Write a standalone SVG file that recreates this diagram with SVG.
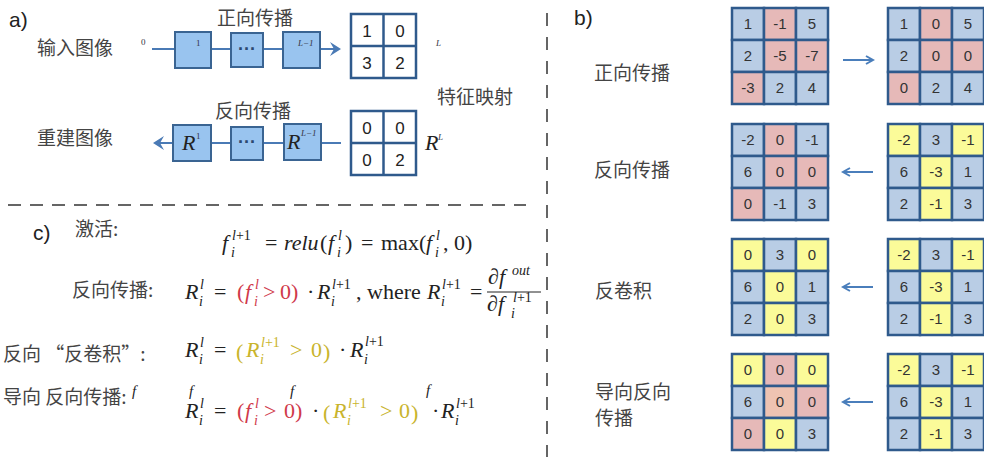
<svg xmlns="http://www.w3.org/2000/svg" width="984" height="457" viewBox="0 0 984 457">
<defs>
<style>
.cn{font-family:"Noto Sans CJK SC","Noto Sans",sans-serif;fill:#444;font-size:19px}
.lbl{font-family:"Liberation Sans","Noto Sans",sans-serif;fill:#222;font-size:21px}
.m{font-family:"Liberation Serif",serif;font-size:22px;fill:#222}
.i{font-style:italic}
.s{font-size:14px}
.t{font-size:15px}
.red{fill:#d0394a}
.yel{fill:#c9b42c}
.box{fill:#99c4ef;stroke:#3a6492;stroke-width:2}
.ln{stroke:#4a7ab5;stroke-width:2;fill:none}
.g2{fill:#fff;stroke:#2f5a8c;stroke-width:2.5}
.gt{font-family:"Liberation Sans","Noto Sans",sans-serif;font-size:17px;fill:#222;text-anchor:middle}
.ct{font-family:"Liberation Sans","Noto Sans",sans-serif;font-size:15px;fill:#333;text-anchor:middle}
.sm{font-family:"Liberation Serif",serif;font-size:9px;fill:#334;}
.B{fill:#b9cde5}.P{fill:#e6b9b8}.Y{fill:#fbfb99}.O{fill:#eec3b2}
.cell{stroke:#2f5a8c;stroke-width:2.5}
.dash{stroke:#333;stroke-width:1.5;fill:none}
.arr{stroke:#4a7ebb;stroke-width:2;fill:none;marker-end:url(#ah)}
</style>
<marker id="ah" markerWidth="10" markerHeight="10" refX="8" refY="5" orient="auto" markerUnits="userSpaceOnUse">
<path d="M1,1 L8,5 L1,9" fill="none" stroke="#4a7ebb" stroke-width="2"/>
</marker>
</defs>
<rect width="984" height="457" fill="#fff"/>

<g id="dividers">
<line class="dash" x1="8" y1="205" x2="526" y2="205" stroke-dasharray="13 9"/>
<line class="dash" x1="547" y1="13" x2="547" y2="457" stroke-dasharray="13 11"/>
</g>

<!-- section a -->
<g id="section-a">
<text class="lbl" x="9" y="27">a)</text>
<text class="cn" x="217" y="25">正向传播</text>
<text class="cn" x="37" y="55">输入图像</text>
<text class="cn" x="215" y="118">反向传播</text>
<text class="cn" x="37" y="145">重建图像</text>
<text class="cn" x="437" y="104">特征映射</text>
</g>

<g id="connectors">
<line class="ln" x1="152" y1="49" x2="175" y2="49"/>
<line class="ln" x1="211" y1="49" x2="231" y2="49"/>
<line class="ln" x1="263" y1="49" x2="283" y2="49"/>
<line class="ln" x1="320" y1="49" x2="337" y2="49"/>
<path d="M330,42 L341,49 L330,56 L334,49 Z" fill="#4a7ab5"/>
<line class="ln" x1="158" y1="143" x2="173" y2="143"/>
<line class="ln" x1="211" y1="143" x2="231" y2="143"/>
<line class="ln" x1="263" y1="143" x2="284" y2="143"/>
<line class="ln" x1="321" y1="143" x2="341" y2="143"/>
<path d="M164,136 L153,143 L164,150 L160,143 Z" fill="#4a7ab5"/>
<line class="arr" x1="843" y1="60" x2="873" y2="60"/>
<line class="arr" x1="873" y1="172" x2="843" y2="172"/>
<line class="arr" x1="873" y1="287" x2="843" y2="287"/>
<line class="arr" x1="873" y1="402" x2="843" y2="402"/>
</g>

<g id="node-f0"><text class="sm" x="141" y="45">0</text></g>
<g id="node-f1"><rect class="box" x="175" y="32" width="36" height="36"/><text class="sm" x="196" y="46">1</text></g>
<g id="node-fdots"><rect class="box" x="231" y="33" width="32" height="34"/><text x="247" y="55" font-family="Liberation Sans,sans-serif" font-size="18" font-weight="bold" fill="#2b4a70" text-anchor="middle">···</text></g>
<g id="node-fL1"><rect class="box" x="283" y="32" width="37" height="36"/><text class="sm i" x="298" y="46">L−1</text></g>
<g id="node-fmap">
<rect class="g2" x="351" y="14" width="65" height="64"/>
<line class="g2" x1="383.5" y1="14" x2="383.5" y2="78"/><line class="g2" x1="351" y1="46" x2="416" y2="46"/>
<text class="gt" x="367" y="37">1</text><text class="gt" x="400" y="37">0</text>
<text class="gt" x="367" y="69">3</text><text class="gt" x="400" y="69">2</text>
<text class="sm i" x="436" y="46">L</text>
</g>
<g id="node-r1"><rect class="box" x="173" y="125" width="38" height="36"/><text class="m i" x="182" y="150" font-size="19">R</text><text class="sm" x="196" y="139">1</text></g>
<g id="node-rdots"><rect class="box" x="231" y="127" width="32" height="33"/><text x="247" y="148" font-family="Liberation Sans,sans-serif" font-size="18" font-weight="bold" fill="#2b4a70" text-anchor="middle">···</text></g>
<g id="node-rL1"><rect class="box" x="284" y="124" width="37" height="36"/><text class="m i" x="287" y="149" font-size="19">R</text><text class="sm i" x="301" y="136" font-size="10">L−1</text></g>
<g id="node-rmap">
<rect class="g2" x="351" y="111" width="65" height="64"/>
<line class="g2" x1="383.5" y1="111" x2="383.5" y2="175"/><line class="g2" x1="351" y1="143" x2="416" y2="143"/>
<text class="gt" x="367" y="134">0</text><text class="gt" x="400" y="134">0</text>
<text class="gt" x="367" y="166">0</text><text class="gt" x="400" y="166">2</text>
<text class="m i" x="425" y="150" font-size="17">R</text><text class="sm i" x="438" y="140">L</text>
</g>

<!-- section c -->
<g id="section-c">
<text class="lbl" x="33" y="240">c)</text>
<text class="cn" x="75" y="236" font-size="16">激活:</text>
<text class="cn" x="72" y="297" font-size="17">反向传播:</text>
<text class="cn" x="3" y="361" font-size="17">反向 “反卷积”:</text>
<text class="cn" x="3" y="404" font-size="17">导向 反向传播:</text>
<text class="m i t" x="132" y="396">f</text>

<!-- formula 1 -->
<text class="m i" x="222" y="250">f</text>
<text class="m s" x="232" y="240"><tspan class="i">l</tspan>+1</text>
<text class="m s i" x="231" y="257">i</text>
<text class="m" x="265" y="250">=</text>
<text class="m i" x="284" y="250">relu</text>
<text class="m" x="320" y="250">(</text>
<text class="m i" x="328" y="250">f</text>
<text class="m s i" x="338" y="240">l</text>
<text class="m s i" x="337" y="257">i</text>
<text class="m" x="345" y="250">)</text>
<text class="m" x="361" y="250">=</text>
<text class="m" x="381" y="250">max(</text>
<text class="m i" x="426" y="250">f</text>
<text class="m s i" x="436" y="240">l</text>
<text class="m s i" x="435" y="257">i</text>
<text class="m" x="443" y="250">,</text>
<text class="m" x="454" y="250">0)</text>

<!-- formula 2 -->
<text class="m i" x="185" y="299">R</text>
<text class="m s i" x="200" y="289">l</text>
<text class="m s i" x="199" y="306">i</text>
<text class="m" x="214" y="299">=</text>
<text class="m red" x="237" y="299">(</text>
<text class="m i red" x="245" y="299">f</text>
<text class="m s i red" x="255" y="289">l</text>
<text class="m s i red" x="254" y="306">i</text>
<text class="m red" x="263" y="299">&gt;</text>
<text class="m red" x="280" y="299">0)</text>
<text class="m" x="307" y="299">·</text>
<text class="m i" x="317" y="299">R</text>
<text class="m s" x="332" y="289"><tspan class="i">l</tspan>+1</text>
<text class="m s i" x="331" y="306">i</text>
<text class="m" x="356" y="299">, where</text>
<text class="m i" x="427" y="299">R</text>
<text class="m s" x="442" y="289"><tspan class="i">l</tspan>+1</text>
<text class="m s i" x="441" y="306">i</text>
<text class="m" x="470" y="299">=</text>
<text class="m" x="488" y="284" font-size="20">∂<tspan class="i">f</tspan></text>
<text class="m s i" x="512" y="275">out</text>
<line x1="487" y1="292" x2="541" y2="292" stroke="#222" stroke-width="1"/>
<text class="m" x="487" y="311" font-size="20">∂<tspan class="i">f</tspan></text>
<text class="m s" x="513" y="302"><tspan class="i">l</tspan>+1</text>
<text class="m s i" x="511" y="318">i</text>

<!-- formula 3 -->
<text class="m i" x="185" y="357">R</text>
<text class="m s i" x="200" y="347">l</text>
<text class="m s i" x="199" y="364">i</text>
<text class="m" x="214" y="357">=</text>
<text class="m yel" x="236" y="359" font-size="26">(</text>
<text class="m i yel" x="246" y="357">R</text>
<text class="m s yel" x="261" y="347"><tspan class="i">l</tspan>+1</text>
<text class="m s i yel" x="260" y="364">i</text>
<text class="m yel" x="290" y="357">&gt;</text>
<text class="m yel" x="311" y="357">0</text>
<text class="m yel" x="323" y="359" font-size="26">)</text>
<text class="m" x="339" y="357">·</text>
<text class="m i" x="350" y="357">R</text>
<text class="m s" x="365" y="346"><tspan class="i">l</tspan>+1</text>
<text class="m s i" x="364" y="364">i</text>

<!-- formula 4 -->
<text class="m i t" x="189" y="396">f</text>
<text class="m i" x="185" y="418">R</text>
<text class="m s i" x="200" y="408">l</text>
<text class="m s i" x="199" y="425">i</text>
<text class="m" x="214" y="418">=</text>
<text class="m red" x="237" y="418">(</text>
<text class="m i red" x="245" y="418">f</text>
<text class="m s i red" x="255" y="408">l</text>
<text class="m s i red" x="254" y="425">i</text>
<text class="m red" x="264" y="418">&gt;</text>
<text class="m red" x="284" y="418">0)</text>
<text class="m i t" x="290" y="396">f</text>
<text class="m" x="312" y="418">·</text>
<text class="m yel" x="323" y="420" font-size="26">(</text>
<text class="m i yel" x="333" y="418">R</text>
<text class="m s yel" x="348" y="408"><tspan class="i">l</tspan>+1</text>
<text class="m s i yel" x="347" y="425">i</text>
<text class="m yel" x="380" y="418">&gt;</text>
<text class="m yel" x="399" y="418">0</text>
<text class="m yel" x="411" y="420" font-size="26">)</text>
<text class="m i t" x="426" y="395">f</text>
<text class="m" x="432" y="418">·</text>
<text class="m i" x="441" y="418">R</text>
<text class="m s" x="456" y="408"><tspan class="i">l</tspan>+1</text>
<text class="m s i" x="455" y="425">i</text>
</g>

<!-- section b -->
<g id="section-b">
<text class="lbl" x="574" y="25">b)</text>
<text class="cn" x="594" y="80">正向传播</text>
<text class="cn" x="594" y="177">反向传播</text>
<text class="cn" x="595" y="298">反卷积</text>
<text class="cn" font-size="18"><tspan x="595" y="399">导向反向</tspan><tspan x="595" dy="26">传播</tspan></text>
</g>

<g id="grid-fwd-in">
<rect class="cell B" x="732" y="8" width="32" height="32"/><rect class="cell P" x="764" y="8" width="32" height="32"/><rect class="cell B" x="796" y="8" width="32" height="32"/>
<rect class="cell B" x="732" y="40" width="32" height="32"/><rect class="cell P" x="764" y="40" width="32" height="32"/><rect class="cell P" x="796" y="40" width="32" height="32"/>
<rect class="cell P" x="732" y="72" width="32" height="32"/><rect class="cell B" x="764" y="72" width="32" height="32"/><rect class="cell B" x="796" y="72" width="32" height="32"/>
<text class="ct" x="748" y="29">1</text><text class="ct" x="780" y="29">-1</text><text class="ct" x="812" y="29">5</text>
<text class="ct" x="748" y="61">2</text><text class="ct" x="780" y="61">-5</text><text class="ct" x="812" y="61">-7</text>
<text class="ct" x="748" y="93">-3</text><text class="ct" x="780" y="93">2</text><text class="ct" x="812" y="93">4</text>
</g>
<g id="grid-fwd-out">
<rect class="cell B" x="888" y="8" width="32" height="32"/><rect class="cell P" x="920" y="8" width="32" height="32"/><rect class="cell B" x="952" y="8" width="32" height="32"/>
<rect class="cell B" x="888" y="40" width="32" height="32"/><rect class="cell P" x="920" y="40" width="32" height="32"/><rect class="cell P" x="952" y="40" width="32" height="32"/>
<rect class="cell P" x="888" y="72" width="32" height="32"/><rect class="cell B" x="920" y="72" width="32" height="32"/><rect class="cell B" x="952" y="72" width="32" height="32"/>
<text class="ct" x="904" y="29">1</text><text class="ct" x="936" y="29">0</text><text class="ct" x="968" y="29">5</text>
<text class="ct" x="904" y="61">2</text><text class="ct" x="936" y="61">0</text><text class="ct" x="968" y="61">0</text>
<text class="ct" x="904" y="93">0</text><text class="ct" x="936" y="93">2</text><text class="ct" x="968" y="93">4</text>
</g>

<g id="grid-bp-out">
<rect class="cell B" x="732" y="124" width="32" height="32"/><rect class="cell P" x="764" y="124" width="32" height="32"/><rect class="cell B" x="796" y="124" width="32" height="32"/>
<rect class="cell B" x="732" y="156" width="32" height="32"/><rect class="cell P" x="764" y="156" width="32" height="32"/><rect class="cell P" x="796" y="156" width="32" height="32"/>
<rect class="cell P" x="732" y="188" width="32" height="32"/><rect class="cell B" x="764" y="188" width="32" height="32"/><rect class="cell B" x="796" y="188" width="32" height="32"/>
<text class="ct" x="748" y="145">-2</text><text class="ct" x="780" y="145">0</text><text class="ct" x="812" y="145">-1</text>
<text class="ct" x="748" y="177">6</text><text class="ct" x="780" y="177">0</text><text class="ct" x="812" y="177">0</text>
<text class="ct" x="748" y="209">0</text><text class="ct" x="780" y="209">-1</text><text class="ct" x="812" y="209">3</text>
</g>
<g id="grid-bp-in">
<rect class="cell Y" x="888" y="124" width="32" height="32"/><rect class="cell B" x="920" y="124" width="32" height="32"/><rect class="cell Y" x="952" y="124" width="32" height="32"/>
<rect class="cell B" x="888" y="156" width="32" height="32"/><rect class="cell Y" x="920" y="156" width="32" height="32"/><rect class="cell B" x="952" y="156" width="32" height="32"/>
<rect class="cell B" x="888" y="188" width="32" height="32"/><rect class="cell Y" x="920" y="188" width="32" height="32"/><rect class="cell B" x="952" y="188" width="32" height="32"/>
<text class="ct" x="904" y="145">-2</text><text class="ct" x="936" y="145">3</text><text class="ct" x="968" y="145">-1</text>
<text class="ct" x="904" y="177">6</text><text class="ct" x="936" y="177">-3</text><text class="ct" x="968" y="177">1</text>
<text class="ct" x="904" y="209">2</text><text class="ct" x="936" y="209">-1</text><text class="ct" x="968" y="209">3</text>
</g>

<g id="grid-dc-out">
<rect class="cell Y" x="732" y="239" width="32" height="32"/><rect class="cell B" x="764" y="239" width="32" height="32"/><rect class="cell Y" x="796" y="239" width="32" height="32"/>
<rect class="cell B" x="732" y="271" width="32" height="32"/><rect class="cell Y" x="764" y="271" width="32" height="32"/><rect class="cell B" x="796" y="271" width="32" height="32"/>
<rect class="cell B" x="732" y="303" width="32" height="32"/><rect class="cell Y" x="764" y="303" width="32" height="32"/><rect class="cell B" x="796" y="303" width="32" height="32"/>
<text class="ct" x="748" y="260">0</text><text class="ct" x="780" y="260">3</text><text class="ct" x="812" y="260">0</text>
<text class="ct" x="748" y="292">6</text><text class="ct" x="780" y="292">0</text><text class="ct" x="812" y="292">1</text>
<text class="ct" x="748" y="324">2</text><text class="ct" x="780" y="324">0</text><text class="ct" x="812" y="324">3</text>
</g>
<g id="grid-dc-in">
<rect class="cell Y" x="888" y="239" width="32" height="32"/><rect class="cell B" x="920" y="239" width="32" height="32"/><rect class="cell Y" x="952" y="239" width="32" height="32"/>
<rect class="cell B" x="888" y="271" width="32" height="32"/><rect class="cell Y" x="920" y="271" width="32" height="32"/><rect class="cell B" x="952" y="271" width="32" height="32"/>
<rect class="cell B" x="888" y="303" width="32" height="32"/><rect class="cell Y" x="920" y="303" width="32" height="32"/><rect class="cell B" x="952" y="303" width="32" height="32"/>
<text class="ct" x="904" y="260">-2</text><text class="ct" x="936" y="260">3</text><text class="ct" x="968" y="260">-1</text>
<text class="ct" x="904" y="292">6</text><text class="ct" x="936" y="292">-3</text><text class="ct" x="968" y="292">1</text>
<text class="ct" x="904" y="324">2</text><text class="ct" x="936" y="324">-1</text><text class="ct" x="968" y="324">3</text>
</g>

<g id="grid-gb-out">
<rect class="cell Y" x="732" y="354" width="32" height="32"/><rect class="cell P" x="764" y="354" width="32" height="32"/><rect class="cell Y" x="796" y="354" width="32" height="32"/>
<rect class="cell B" x="732" y="386" width="32" height="32"/><rect class="cell O" x="764" y="386" width="32" height="32"/><rect class="cell P" x="796" y="386" width="32" height="32"/>
<rect class="cell P" x="732" y="418" width="32" height="32"/><rect class="cell Y" x="764" y="418" width="32" height="32"/><rect class="cell B" x="796" y="418" width="32" height="32"/>
<text class="ct" x="748" y="375">0</text><text class="ct" x="780" y="375">0</text><text class="ct" x="812" y="375">0</text>
<text class="ct" x="748" y="407">6</text><text class="ct" x="780" y="407">0</text><text class="ct" x="812" y="407">0</text>
<text class="ct" x="748" y="439">0</text><text class="ct" x="780" y="439">0</text><text class="ct" x="812" y="439">3</text>
</g>
<g id="grid-gb-in">
<rect class="cell Y" x="888" y="354" width="32" height="32"/><rect class="cell B" x="920" y="354" width="32" height="32"/><rect class="cell Y" x="952" y="354" width="32" height="32"/>
<rect class="cell B" x="888" y="386" width="32" height="32"/><rect class="cell Y" x="920" y="386" width="32" height="32"/><rect class="cell B" x="952" y="386" width="32" height="32"/>
<rect class="cell B" x="888" y="418" width="32" height="32"/><rect class="cell Y" x="920" y="418" width="32" height="32"/><rect class="cell B" x="952" y="418" width="32" height="32"/>
<text class="ct" x="904" y="375">-2</text><text class="ct" x="936" y="375">3</text><text class="ct" x="968" y="375">-1</text>
<text class="ct" x="904" y="407">6</text><text class="ct" x="936" y="407">-3</text><text class="ct" x="968" y="407">1</text>
<text class="ct" x="904" y="439">2</text><text class="ct" x="936" y="439">-1</text><text class="ct" x="968" y="439">3</text>
</g>
</svg>
